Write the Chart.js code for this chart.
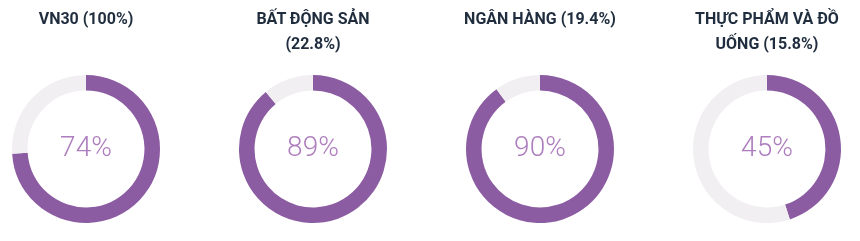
<!DOCTYPE html>
<html>
<head>
<meta charset="utf-8">
<script src="https://cdn.jsdelivr.net/npm/chart.js@4/dist/chart.umd.min.js"></script>
<style>
  html, body { margin: 0; padding: 0; background: #ffffff; }
  #wrap { position: relative; width: 860px; height: 241px; overflow: hidden; }
  .col { position: absolute; top: 0; width: 220px; height: 241px; }
  .col canvas { position: absolute; left: 0; top: 0; }
  .title {
    position: absolute; left: 30px; top: 6px; width: 160px;
    text-align: center; font-family: Roboto, "Open Sans", sans-serif;
    font-weight: 700; font-size: 16px; line-height: 25px; color: #1f2d3e;
  }
</style>
</head>
<body>
<div id="wrap"></div>
<script>
// Sector names, their weight in the index, and the share shown in each ring
const sectors = ['VN30', 'BẤT ĐỘNG SẢN', 'NGÂN HÀNG', 'THỰC PHẨM VÀ ĐỒ UỐNG'];
const weights = ['100%', '22.8%', '19.4%', '15.8%'];
const values = [74, 89, 90, 45];
const centers = [86, 313, 540, 767];

const ringColor = '#8c5ca2';
const restColor = '#f1eff2';
const labelColor = '#ae7dbe';

// Writes the ring's percentage in the middle of the hole
const centerLabel = {
  id: 'centerLabel',
  afterDraw(chart) {
    const meta = chart.getDatasetMeta(0);
    const arc = meta.data[0];
    if (!arc) return;
    const v = chart.data.datasets[0].data[0];
    const ctx = chart.ctx;
    ctx.save();
    ctx.font = '300 28px Roboto, "Open Sans", sans-serif';
    ctx.fillStyle = labelColor;
    ctx.textAlign = 'center';
    ctx.textBaseline = 'middle';
    ctx.fillText(v + '%', arc.x, arc.y);
    ctx.restore();
  }
};

const wrap = document.getElementById('wrap');
sectors.forEach((name, i) => {
  const col = document.createElement('div');
  col.className = 'col';
  col.style.left = (centers[i] - 110) + 'px';
  const title = document.createElement('div');
  title.className = 'title';
  title.textContent = name + ' (' + weights[i] + ')';
  const canvas = document.createElement('canvas');
  canvas.width = 220; canvas.height = 241;
  canvas.style.width = '220px'; canvas.style.height = '241px';
  col.appendChild(canvas);
  col.appendChild(title);
  wrap.appendChild(col);

  new Chart(canvas, {
    type: 'doughnut',
    data: {
      labels: [name, ''],
      datasets: [{
        data: [values[i], 100 - values[i]],
        backgroundColor: [ringColor, restColor],
        borderWidth: 0,
        hoverOffset: 0,
        offset: 0
      }]
    },
    options: {
      responsive: false,
      animation: false,
      events: [],
      cutout: '79%',
      layout: { padding: { top: 75, bottom: 18, left: 0, right: 0 } },
      plugins: { legend: { display: false }, tooltip: { enabled: false }, title: { display: false } }
    },
    plugins: [centerLabel]
  });
});
</script>
</body>
</html>
